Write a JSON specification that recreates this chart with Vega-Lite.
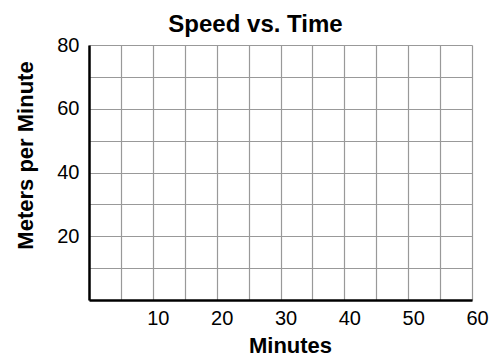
{
  "$schema": "https://vega.github.io/schema/vega-lite/v6.json",
  "width": 383,
  "height": 255,
  "autosize": {"type": "none"},
  "padding": {"left": 89, "top": 45, "right": 18, "bottom": 58},
  "background": "white",
  "title": {
    "text": "Speed vs. Time",
    "font": "Liberation Sans",
    "fontSize": 24,
    "fontWeight": "bold",
    "color": "black",
    "anchor": "middle",
    "frame": "group",
    "dx": -25,
    "dy": 27,
    "baseline": "alphabetic",
    "offset": 6
  },
  "data": {"values": []},
  "mark": {"type": "point"},
  "encoding": {
    "x": {
      "field": "Minutes",
      "type": "quantitative",
      "scale": {"domain": [0, 60], "nice": false, "zero": false},
      "axis": {
        "title": "Minutes",
        "values": [0, 5, 10, 15, 20, 25, 30, 35, 40, 45, 50, 55, 60],
        "labelExpr": "datum.value % 10 == 0 ? datum.label : ''",
        "labelFlush": false,
        "labelOverlap": false,
        "labelBound": false,
        "labelOffset": {"condition": {"test": "datum.value == 0", "value": -95}, "value": 5},
        "labelFont": "Liberation Sans",
        "labelFontSize": 20,
        "labelColor": "black",
        "labelPadding": 8,
        "labelBaseline": "top",
        "ticks": false,
        "tickSize": 0,
        "domainColor": "black",
        "domainWidth": 2.5,
        "grid": true,
        "gridColor": "#999999",
        "gridWidth": 1.2,
        "gridOpacity": 1,
        "titleFont": "Liberation Sans",
        "titleFontSize": 22,
        "titleFontWeight": "bold",
        "titleColor": "black",
        "titleX": 201,
        "titleY": 52,
        "titleAlign": "center",
        "titleBaseline": "alphabetic"
      }
    },
    "y": {
      "field": "Speed",
      "type": "quantitative",
      "scale": {"domain": [0, 80], "nice": false, "zero": false},
      "axis": {
        "title": "Meters per Minute",
        "values": [0, 10, 20, 30, 40, 50, 60, 70, 80],
        "labelExpr": "datum.value > 0 && datum.value % 20 == 0 ? datum.label : ''",
        "labelOverlap": false,
        "labelBound": false,
        "labelFlush": false,
        "labelFont": "Liberation Sans",
        "labelFontSize": 20,
        "labelColor": "black",
        "labelPadding": 10,
        "labelBaseline": "middle",
        "ticks": false,
        "tickSize": 0,
        "domainColor": "black",
        "domainWidth": 2.5,
        "grid": true,
        "gridColor": "#999999",
        "gridWidth": 1.2,
        "gridOpacity": 1,
        "titleFont": "Liberation Sans",
        "titleFontSize": 22,
        "titleFontWeight": "bold",
        "titleColor": "black",
        "titleAngle": -90,
        "titleX": -57,
        "titleY": 110,
        "titleAlign": "center",
        "titleBaseline": "alphabetic"
      }
    }
  },
  "config": {"view": {"stroke": null}}
}
